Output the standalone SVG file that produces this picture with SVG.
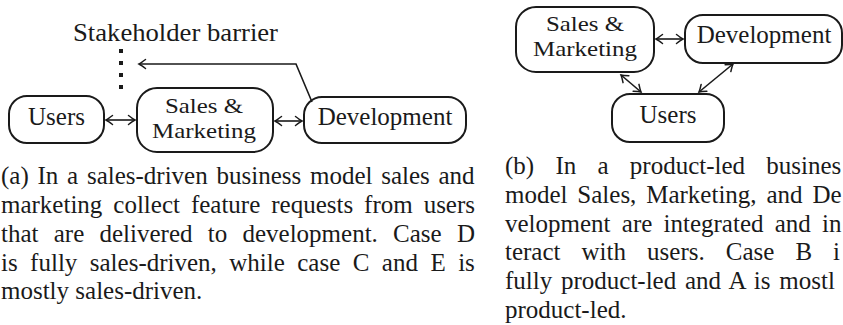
<svg xmlns="http://www.w3.org/2000/svg" width="843" height="325" viewBox="0 0 843 325">
<style>
  .box { fill: #fff; stroke: #1a1a1a; stroke-width: 2; }
  .lbl { font-family: "Liberation Serif", "Times New Roman", serif; font-size: 25px; fill: #1a1a1a; text-anchor: middle; }
  .two { font-size: 22px; }
  .cap { font-family: "Liberation Serif", "Times New Roman", serif; font-size: 25px; fill: #1a1a1a; }
  .edge { fill: none; stroke: #1a1a1a; stroke-width: 1.6; }
</style>
<defs>
  <marker id="arr" markerUnits="userSpaceOnUse" viewBox="-8 -6 10 12" refX="0" refY="0" markerWidth="10" markerHeight="12" orient="auto-start-reverse">
    <path d="M -6.5,-4.5 Q -2,-1 0,0 Q -2,1 -6.5,4.5" fill="none" stroke="#1a1a1a" stroke-width="1.5" stroke-linecap="round"/>
  </marker>
</defs>
<rect width="843" height="325" fill="#fff"/>

<g id="barrier">
  <text class="cap" x="73" y="41" textLength="205" lengthAdjust="spacingAndGlyphs">Stakeholder barrier</text>
  <line x1="121" y1="49" x2="121" y2="89" stroke="#1a1a1a" stroke-width="4" stroke-dasharray="4 8"/>
</g>

<g id="a-users">
  <rect class="box" x="9" y="96" width="95" height="47" rx="18"/>
  <text class="lbl" x="56.5" y="125">Users</text>
</g>
<g id="a-sales">
  <rect class="box" x="137" y="88" width="136" height="64" rx="20"/>
  <text class="lbl two" x="204" y="113" textLength="78" lengthAdjust="spacingAndGlyphs">Sales &amp;</text>
  <text class="lbl two" x="204" y="138" textLength="104" lengthAdjust="spacingAndGlyphs">Marketing</text>
</g>
<g id="a-dev">
  <rect class="box" x="304" y="97" width="162" height="46" rx="18"/>
  <text class="lbl" x="385" y="125">Development</text>
</g>

<g id="b-sales">
  <rect class="box" x="516" y="7" width="138" height="65" rx="20"/>
  <text class="lbl two" x="585" y="31" textLength="78" lengthAdjust="spacingAndGlyphs">Sales &amp;</text>
  <text class="lbl two" x="585" y="56" textLength="104" lengthAdjust="spacingAndGlyphs">Marketing</text>
</g>
<g id="b-dev">
  <rect class="box" x="685" y="15" width="157" height="48" rx="18"/>
  <text class="lbl" x="764" y="43">Development</text>
</g>
<g id="b-users">
  <rect class="box" x="612" y="94" width="112" height="48" rx="18"/>
  <text class="lbl" x="668" y="123">Users</text>
</g>

<g id="connectors">
  <line class="edge" x1="106" y1="120" x2="135" y2="120" marker-start="url(#arr)" marker-end="url(#arr)"/>
  <line class="edge" x1="275" y1="121" x2="302" y2="121" marker-start="url(#arr)" marker-end="url(#arr)"/>
  <polyline class="edge" points="312,102 296,64 139,64" marker-end="url(#arr)"/>
  <line class="edge" x1="656" y1="39" x2="683" y2="39" marker-start="url(#arr)" marker-end="url(#arr)"/>
  <line class="edge" x1="621" y1="75" x2="641" y2="92" marker-start="url(#arr)" marker-end="url(#arr)"/>
  <line class="edge" x1="733" y1="64" x2="699" y2="92" marker-start="url(#arr)" marker-end="url(#arr)"/>
</g>

<g id="caption-a">
  <text class="cap" x="1" y="184" word-spacing="2.5">(a) In a sales-driven business model sales and</text>
  <text class="cap" x="1" y="213" word-spacing="4.7">marketing collect feature requests from users</text>
  <text class="cap" x="1" y="242" word-spacing="9">that are delivered to development. Case D</text>
  <text class="cap" x="1" y="271" word-spacing="6.2">is fully sales-driven, while case C and E is</text>
  <text class="cap" x="1" y="299">mostly sales-driven.</text>
</g>

<g id="caption-b">
  <text class="cap" x="505" y="174" word-spacing="15">(b) In a product-led busines</text>
  <text class="cap" x="505" y="203" word-spacing="3.6">model Sales, Marketing, and De</text>
  <text class="cap" x="505" y="232" word-spacing="5">velopment are integrated and in</text>
  <text class="cap" x="505" y="260" word-spacing="14.8">teract with users. Case B i</text>
  <text class="cap" x="505" y="289" word-spacing="2.5">fully product-led and A is mostl</text>
  <text class="cap" x="505" y="318">product-led.</text>
</g>
</svg>
